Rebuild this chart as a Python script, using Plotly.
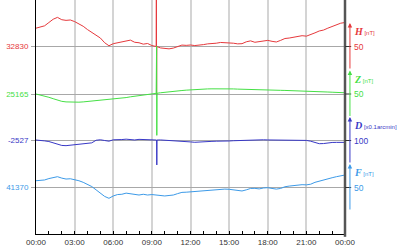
import plotly.graph_objects as go

# ---------------- data ----------------
times = ["00:00","00:20","00:40","01:00","01:20","01:40","02:00","02:20","02:40",
         "03:00","03:20","03:40","04:00","04:20","04:40","05:00","05:20","05:40",
         "06:00","06:20","06:40","07:00","07:20","07:40","08:00","08:20","08:40",
         "09:00","09:20","09:40","10:00","10:20","10:40","11:00","11:20","11:40",
         "12:00","12:20","12:40","13:00","13:20","13:40","14:00","14:20","14:40",
         "15:00","15:20","15:40","16:00","16:20","16:40","17:00","17:20","17:40",
         "18:00","18:20","18:40","19:00","19:20","19:40","20:00","20:20","20:40",
         "21:00","21:20","21:40","22:00","22:20","22:40","23:00","23:20","23:40","24:00"]

H_values = [32849.5,32850.8,32852.0,32855.5,32859.0,32861.0,32858.5,32857.8,32858.2,
            32856.5,32854.0,32851.5,32848.0,32845.0,32842.5,32839.0,32834.0,32830.8,
            32833.0,32833.8,32834.5,32836.0,32836.8,32834.5,32834.0,32832.5,32833.2,
            32831.0,32830.0,32828.5,32828.0,32827.5,32828.3,32830.0,32831.5,32831.2,
            32831.6,32831.0,32831.2,32832.0,32832.8,32833.0,32833.5,32834.3,32834.0,
            32834.2,32833.5,32832.8,32833.0,32835.0,32836.0,32834.5,32835.2,32836.3,
            32836.5,32835.5,32834.8,32836.5,32838.5,32839.0,32839.8,32841.0,32841.5,
            32841.0,32842.5,32844.5,32846.5,32847.5,32849.5,32851.5,32853.0,32854.8,32855.5]

Z_values = [25165.0,25164.0,25163.0,25161.5,25160.0,25158.5,25157.2,25156.6,25156.3,
            25156.2,25156.3,25156.6,25157.0,25157.4,25157.8,25158.2,25158.5,25158.9,
            25159.4,25160.0,25160.5,25161.2,25162.0,25162.6,25163.2,25163.8,25164.5,
            25165.2,25165.7,25166.3,25166.9,25167.4,25168.0,25168.4,25168.7,25169.1,
            25169.5,25169.8,25170.0,25170.2,25170.4,25170.5,25170.6,25170.6,25170.6,
            25170.5,25170.4,25170.2,25170.0,25169.8,25169.7,25169.6,25169.4,25169.3,
            25169.2,25169.1,25169.0,25168.9,25168.8,25168.7,25168.6,25168.5,25168.4,
            25168.2,25168.0,25167.8,25167.6,25167.4,25167.1,25166.9,25166.7,25166.5,25166.3]

D_values = [-2526.0,-2526.5,-2527.8,-2529.2,-2531.5,-2534.5,-2537.5,-2538.0,-2537.0,
            -2536.5,-2535.5,-2534.8,-2533.5,-2532.0,-2526.5,-2525.5,-2527.0,-2528.5,
            -2525.5,-2524.5,-2525.0,-2524.2,-2525.0,-2525.8,-2524.6,-2525.2,-2525.4,
            -2525.0,-2526.0,-2525.8,-2526.3,-2526.0,-2526.8,-2527.2,-2527.5,-2528.5,
            -2530.0,-2530.8,-2530.0,-2529.5,-2529.2,-2528.8,-2528.5,-2528.8,-2528.2,
            -2528.0,-2527.5,-2527.0,-2526.8,-2526.4,-2526.0,-2526.2,-2525.8,-2525.5,
            -2525.8,-2526.0,-2526.2,-2526.0,-2525.8,-2526.2,-2526.0,-2525.7,-2526.0,
            -2526.8,-2528.5,-2531.5,-2533.8,-2533.5,-2532.0,-2531.2,-2531.0,-2530.8,-2531.0]

F_values = [41377.2,41377.5,41378.0,41379.5,41380.5,41381.5,41380.0,41379.0,41379.3,
            41378.5,41377.2,41375.5,41373.0,41371.0,41367.5,41364.0,41360.5,41358.5,
            41361.0,41362.5,41362.8,41364.0,41363.2,41362.5,41362.0,41362.8,41362.0,
            41362.5,41361.8,41361.3,41361.0,41361.5,41362.0,41363.5,41364.8,41365.0,
            41365.4,41365.8,41365.5,41366.0,41366.8,41367.2,41367.5,41368.0,41368.3,
            41368.1,41367.5,41366.5,41366.3,41367.5,41369.0,41369.1,41368.5,41369.5,
            41369.8,41369.0,41368.3,41369.0,41370.8,41371.5,41372.0,41372.8,41373.0,
            41372.8,41373.5,41375.5,41376.9,41377.8,41379.0,41380.4,41381.5,41382.8,41383.3]

# short disturbance (spike) around 09:21
H_spike_times = ["09:21", "09:22", "09:23"]
H_spike = [32925.0, 32779.0, 32830.0]
Z_spike_times = ["09:22", "09:23", "09:24"]
Z_spike = [25216.0, 25121.0, 25165.8]
D_spike_times = ["09:22", "09:23", "09:24"]
D_spike = [-2526.0, -2579.0, -2526.0]

names = ["H", "Z", "D", "F"]
units = ["[nT]", "[nT]", "[x0.1arcmin]", "[nT]"]
baselines = [32830, 25165, -2527, 41370]
baseline_labels = ["32830", "25165", "-2527", "41370"]
scale_values = [50, 50, 100, 50]
x_tick_labels = ["00:00", "03:00", "06:00", "09:00", "12:00", "15:00", "18:00", "21:00", "00:00"]

# ---------------- styling / layout ----------------
colors = ["#e6393c", "#45e045", "#3838c6", "#3c9ae8"]
W, H = 400, 250
ML, MR, MT, MB = 36, 55, 0, 16
PH = H - MT - MB            # plot height in px
ARROW_PX = 47               # px corresponding to one scale value
BASE_PX = [46.5, 94.0, 140.5, 187.5]   # baseline pixel row from plot top


def ts(hm):
    h, m = hm.split(":")
    if h == "24":
        return "2024-01-02 00:00"
    return f"2024-01-01 {h}:{m}"


def merged(main_t, main_v, sp_t, sp_v):
    pairs = sorted(list(zip(main_t, main_v)) + list(zip(sp_t, sp_v)),
                   key=lambda p: (p[0] == "24:00", p[0]))
    return [ts(p[0]) for p in pairs], [p[1] for p in pairs]


series = [
    merged(times, H_values, H_spike_times, H_spike),
    merged(times, Z_values, Z_spike_times, Z_spike),
    merged(times, D_values, D_spike_times, D_spike),
    ([ts(t) for t in times], F_values),
]

fig = go.Figure()
axis_ids = ["y", "y2", "y3", "y4"]
for i, (xs, ys) in enumerate(series):
    fig.add_trace(go.Scatter(x=xs, y=ys, mode="lines", yaxis=axis_ids[i],
                             line=dict(color=colors[i], width=1),
                             hoverinfo="skip", showlegend=False))

FONT = "Liberation Sans, Arial, sans-serif"
layout = dict(
    width=W, height=H,
    margin=dict(l=ML, r=MR, t=MT, b=MB, pad=0),
    paper_bgcolor="white", plot_bgcolor="white",
    showlegend=False,
    font=dict(family=FONT, size=8, color="#333333"),
    xaxis=dict(
        type="date",
        range=[ts("00:00"), ts("24:00")],
        tickvals=[ts(t) for t in ["00:00", "03:00", "06:00", "09:00", "12:00",
                                   "15:00", "18:00", "21:00", "24:00"]],
        ticktext=x_tick_labels,
        showgrid=True, gridcolor="#d4d4d4", gridwidth=2,
        showline=True, linecolor="#000000", linewidth=1,
        ticks="inside", ticklen=3, tickcolor="#000000",
        minor=dict(dtick=3600000, ticks="inside", ticklen=3,
                   tickcolor="#000000", showgrid=False),
        tickfont=dict(size=8, color="#333333"),
        zeroline=False, fixedrange=True,
    ),
)

for i in range(4):
    upp = scale_values[i] / ARROW_PX   # units per pixel
    top = baselines[i] + BASE_PX[i] * upp
    bot = baselines[i] - (PH - BASE_PX[i]) * upp
    key = "yaxis" if i == 0 else f"yaxis{i+1}"
    ax = dict(
        range=[bot, top],
        tickvals=[baselines[i]], ticktext=[baseline_labels[i]],
        tickfont=dict(size=8, color=colors[i]),
        showgrid=True, gridcolor="#a8a8a8", gridwidth=1,
        zeroline=False, ticks="outside", ticklen=4, tickcolor="#a8a8a8",
        ticklabelstandoff=1,
        showline=(i == 0), linecolor="#000000", linewidth=1,
        side="left", anchor="x", fixedrange=True,
    )
    if i > 0:
        ax["overlaying"] = "y"
    layout[key] = ax

fig.update_layout(**layout)

# right frame line
fig.add_shape(type="line", xref="paper", yref="paper", x0=1, x1=1, y0=-0.012, y1=1,
              line=dict(color="#555555", width=2.5))

ARROW_X = 1.016
for i in range(4):
    yref = axis_ids[i]
    half = scale_values[i] / 2
    # right tick at baseline
    fig.add_shape(type="line", xref="paper", yref=yref, x0=1, x1=1.02,
                  y0=baselines[i], y1=baselines[i],
                  line=dict(color="#333333", width=1))
    # scale arrow
    fig.add_annotation(xref="paper", yref=yref, x=ARROW_X, y=baselines[i] + half,
                       axref="pixel", ayref=yref, ax=0, ay=baselines[i] - half,
                       text="", showarrow=True, arrowhead=2, arrowsize=0.9,
                       arrowwidth=1, arrowcolor=colors[i], standoff=0, startstandoff=0)
    # scale value
    fig.add_annotation(xref="paper", yref=yref, x=1.024, y=baselines[i],
                       text=str(scale_values[i]), showarrow=False,
                       xanchor="left", yanchor="middle",
                       font=dict(size=8.5, color=colors[i], family=FONT))
    # component label
    label = (f'<span style="font-family:Liberation Serif;font-weight:bold;'
             f'font-style:italic;font-size:10px">{names[i]}</span>'
             f' <span style="font-size:6px">{units[i]}</span>')
    fig.add_annotation(xref="paper", yref=yref, x=1.022, y=baselines[i], yshift=15,
                       text=label, showarrow=False, xanchor="left", yanchor="middle",
                       font=dict(size=6, color=colors[i], family=FONT))

fig.write_html("out.html")
